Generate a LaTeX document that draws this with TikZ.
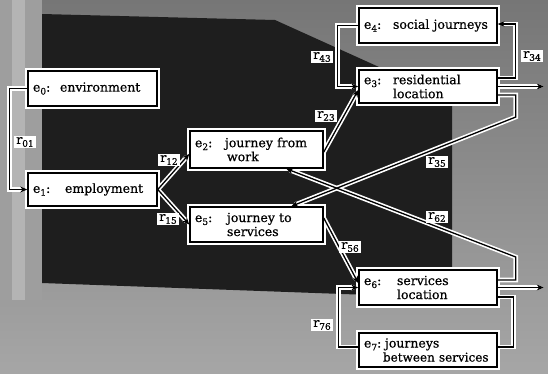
\documentclass[tikz,border=0pt]{standalone}
\usepackage{fontspec}
\setmainfont[FakeBold=0.6]{DejaVu Serif}
\usetikzlibrary{arrows.meta,calc}
\pgfdeclarelayer{bg}
\pgfdeclarelayer{halo}
\pgfsetlayers{bg,halo,main}
\definecolor{board}{HTML}{1E1E1E}
\definecolor{wall}{HTML}{767676}
\definecolor{walllight}{HTML}{A6A6A6}
\definecolor{pillar}{HTML}{9E9E9E}
\definecolor{pillarlight}{HTML}{B4B4B4}
\newcommand\sbs[1]{\raisebox{-0.45ex}{\fontsize{9}{9}\selectfont #1}}
\newcommand\lead[2]{\makebox[#1][l]{#2}}
\begin{document}
\begin{tikzpicture}[x=1pt,y=-1pt,
  box/.style={draw=black,line width=1.5pt,fill=white,
    preaction={draw=white,line width=5.5pt},
    inner xsep=5pt,inner ysep=0pt,align=left,
    font=\fontsize{12.5}{14}\selectfont},
  halo/.style={draw=white,line width=4.6pt},
  ink/.style={draw=black,line width=1.3pt},
  tip/.style={-{Stealth[length=7pt,width=6pt]}},
  lbl/.style={fill=white,inner xsep=2pt,inner ysep=1.5pt,
    font=\fontsize{12.5}{13}\selectfont}]
\useasboundingbox (0,0) rectangle (548,373);
\begin{pgfonlayer}{bg}
  \shade[top color=wall, bottom color=walllight] (0,0) rectangle (548,373);
  \fill[pillar] (0,0) rectangle (42,300);
  \fill[pillarlight] (12,0) rectangle (25,300);
  \fill[board] (42,14) -- (275,20) -- (452,100) -- (452,298) -- (42,283) -- cycle;
\end{pgfonlayer}

% boxes
\node[box,text width=119pt,minimum height=35pt] (e0) at (92.5,88.5)
  {\lead{27pt}{e\sbs{0}:}environment};
\node[box,text width=119pt,minimum height=33pt] (e1) at (92.5,189.5)
  {\lead{32pt}{e\sbs{1}:}employment};
\node[box,text width=123pt,minimum height=37pt] (e2) at (256.5,149.5)
  {\lead{30pt}{e\sbs{2}:}journey from\\\hspace*{32pt}work};
\node[box,text width=123pt,minimum height=35pt] (e5) at (256.5,224.5)
  {\lead{32pt}{e\sbs{5}:}journey to\\\hspace*{32pt}services};
\node[box,text width=128pt,minimum height=35pt] (e4) at (428,25.5)
  {\lead{29pt}{e\sbs{4}:}social journeys};
\node[box,text width=128pt,minimum height=33pt] (e3) at (428,86.5)
  {\lead{29pt}{e\sbs{3}:}residential\\\hspace*{29pt}location};
\node[box,text width=128pt,minimum height=35pt] (e6) at (428,287.5)
  {\lead{33pt}{e\sbs{6}:}services\\\hspace*{33pt}location};
\node[box,text width=128pt,minimum height=34pt] (e7) at (428,350)
  {\lead{21pt}{e\sbs{7}:}journeys\\\hspace*{19pt}\mbox{\fontsize{12}{14}\selectfont between services}};

\coordinate (o3) at ($(e3.east)+(46,0)$);
\coordinate (o6) at ($(e6.east)+(46,0)$);

\newcommand\conns[1]{%
  \draw[#1,tip] (e0.west) -- ++(-18,0) |- (e1.west);
  \draw[#1,tip] (e1.east) -- ([yshift=-4.5pt]e2.west);
  \draw[#1,tip] (e1.east) -- (e5.west);
  \draw[#1,tip] ([yshift=-2.5pt]e2.east) -- ([yshift=-3.5pt]e3.west);
  \draw[#1,tip] (e4.west) -- ++(-21,0) |- (e3.west);
  \draw[#1,tip] ([yshift=8.5pt]e3.east) -- ++(18,0) |- ([yshift=1.5pt]e4.east);
  \draw[#1,tip] ([yshift=-8.5pt]e3.east) -- ++(18,0) -- ++(0,22) -- ($(e5.north west)+(102,0)$);
  \draw[#1,tip] (e3.east) -- (o3);
  \draw[#1,tip] ([yshift=7.5pt]e6.east) -- ++(18,0) -- ++(0,-23) -- ($(e2.south west)+(97,0)$);
  \draw[#1] ([yshift=-9.5pt]e6.east) -- ++(16,0) |- ([yshift=3pt]e7.east);
  \draw[#1,tip] ([yshift=3pt]e7.west) -- ++(-20,0) |- (e6.west);
  \draw[#1,tip] ([yshift=6.5pt]e5.east) -- ([yshift=4.5pt]e6.west);
  \draw[#1,tip] (e6.east) -- (o6);
}
\begin{pgfonlayer}{halo}
  \conns{halo}
\end{pgfonlayer}
\conns{ink}

% labels
\node[lbl] (l01) at (25,142) {r\sbs{01}};
\node[lbl] (l12) at (169,160) {r\sbs{12}};
\node[lbl] (l15) at (168,219) {r\sbs{15}};
\node[lbl] (l23) at (326,116) {r\sbs{23}};
\node[lbl] (l43) at (322,57) {r\sbs{43}};
\node[lbl] (l34) at (532,56) {r\sbs{34}};
\node[lbl] (l35) at (437,162) {r\sbs{35}};
\node[lbl] (l62) at (437,217) {r\sbs{62}};
\node[lbl] (l56) at (350,247) {r\sbs{56}};
\node[lbl] (l76) at (322,325) {r\sbs{76}};
\end{tikzpicture}
\end{document}
